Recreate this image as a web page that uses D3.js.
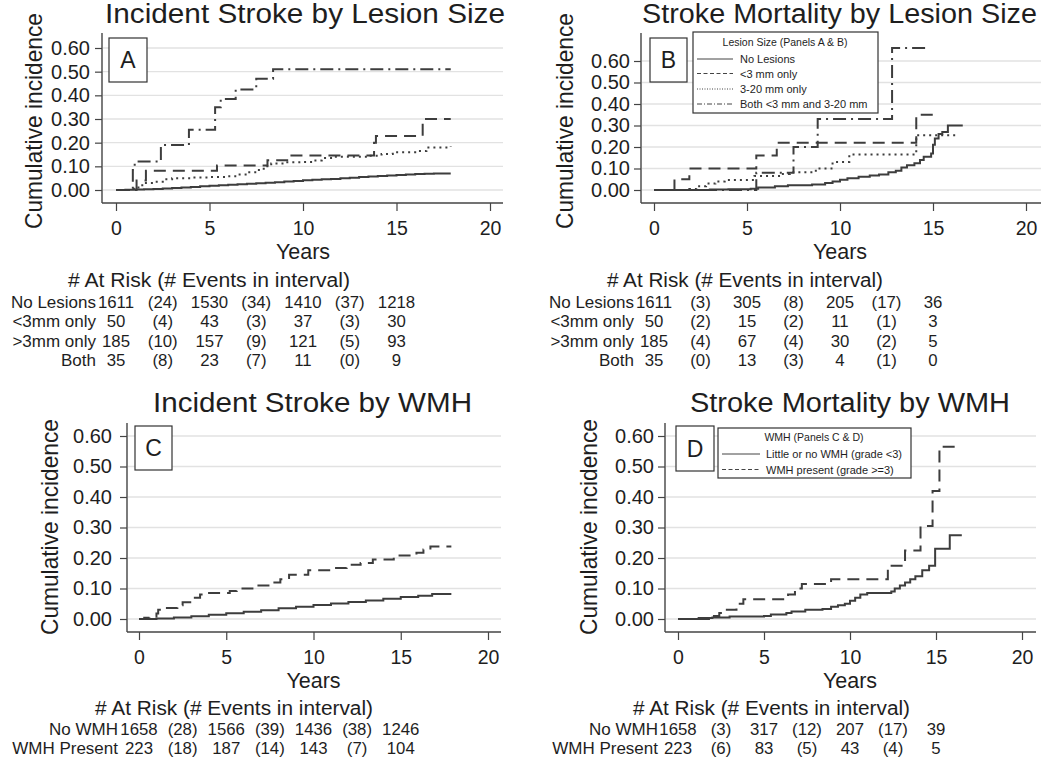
<!DOCTYPE html>
<html><head><meta charset="utf-8">
<script src="https://cdn.jsdelivr.net/npm/d3@7"></script>
<style>
body{margin:0;background:#fff}
svg{display:block}
text{font-family:"Liberation Sans",Arial,Helvetica,sans-serif;fill:#1e1e1e}
</style>
</head><body>
<svg id="c" width="1050" height="761"></svg>
<script>
// ---------------- DATA ----------------
const xTicks = [0, 5, 10, 15, 20];
const yTicks = [0, 0.1, 0.2, 0.3, 0.4, 0.5, 0.6];
const riskTimes = [0, 2.5, 5, 7.5, 10, 12.5, 15];
const panelTitles = ["Incident Stroke by Lesion Size", "Stroke Mortality by Lesion Size", "Incident Stroke by WMH", "Stroke Mortality by WMH"];
const panelLetters = ["A", "B", "C", "D"];
const lesionLegendTitle = "Lesion Size (Panels A & B)";
const lesionGroups = ["No Lesions", "<3 mm only", "3-20 mm only", "Both <3 mm and 3-20 mm"];
const wmhLegendTitle = "WMH (Panels C & D)";
const wmhGroups = ["Little or no WMH (grade <3)", "WMH present (grade >=3)"];
const xAxisTitle = "Years";
const yAxisTitle = "Cumulative incidence";
const tableTitle = "# At Risk (# Events in interval)";

// Panel A: incident stroke by lesion size  [years, cumulative incidence]
const aNoLesions = [[0,0],[0.5,0.001],[1,0.002],[1.5,0.003],[2,0.004],[2.5,0.006],[3,0.008],[3.5,0.011],[4,0.013],[4.5,0.016],[5,0.018],[5.5,0.02],[6,0.022],[6.5,0.024],[7,0.026],[7.5,0.029],[8,0.031],[8.5,0.033],[9,0.036],[9.5,0.038],[10,0.041],[10.5,0.043],[11,0.045],[11.5,0.047],[12,0.05],[12.5,0.052],[13,0.055],[13.5,0.057],[14,0.059],[14.5,0.061],[15,0.063],[15.5,0.065],[16,0.068],[16.5,0.069],[17,0.07],[17.9,0.07]];
const aSmall = [[0,0],[1.1,0.04],[1.6,0.081],[5.4,0.103],[8.1,0.126],[9.3,0.146],[13.8,0.2],[13.9,0.228],[16.4,0.3],[17.9,0.3]];
const aMedium = [[0,0],[0.8,0.005],[1.2,0.02],[1.5,0.03],[2,0.035],[2.5,0.045],[3,0.05],[4,0.053],[5,0.055],[6,0.058],[6.5,0.065],[7,0.075],[7.5,0.085],[7.9,0.1],[8.3,0.112],[9,0.117],[10,0.118],[10.6,0.125],[11,0.135],[11.6,0.14],[13.5,0.145],[14.2,0.152],[14.8,0.16],[16,0.165],[16.6,0.18],[17.9,0.185]];
const aBoth = [[0,0],[0.9,0.085],[1.0,0.12],[2.4,0.19],[3.9,0.255],[5.3,0.35],[5.6,0.385],[6.4,0.425],[7.5,0.47],[8.4,0.51],[17.9,0.51]];

// Panel B: stroke mortality by lesion size
const bNoLesions = [[0,0],[3,0.002],[4,0.004],[5.2,0.006],[5.6,0.012],[6.5,0.017],[7.2,0.022],[8.5,0.026],[9.2,0.032],[9.6,0.04],[10,0.048],[10.4,0.055],[11,0.062],[11.6,0.067],[12.1,0.072],[12.6,0.082],[13,0.09],[13.3,0.105],[13.6,0.115],[14,0.125],[14.3,0.14],[14.5,0.155],[14.9,0.17],[15,0.21],[15.1,0.24],[15.3,0.26],[15.5,0.27],[15.8,0.3],[16.6,0.3]];
const bSmall = [[0,0],[1.1,0.05],[1.9,0.1],[5.5,0.16],[6.6,0.22],[14.1,0.35],[15.0,0.35]];
const bMedium = [[0,0],[1.9,0.005],[2.3,0.018],[2.8,0.03],[3.3,0.04],[3.8,0.047],[5.4,0.065],[6.8,0.075],[7.3,0.082],[8.7,0.1],[9.6,0.13],[10.5,0.165],[14.1,0.255],[16.2,0.255]];
const bBoth = [[0,0],[5.5,0.08],[7.5,0.2],[8.8,0.33],[12.8,0.66],[14.6,0.66]];

// Panel C: incident stroke by WMH
const cNoWmh = [[0,0],[1,0.002],[2,0.005],[3,0.009],[4,0.014],[5,0.019],[6,0.024],[7,0.029],[8,0.035],[9,0.04],[10,0.046],[11,0.051],[12,0.056],[13,0.061],[14,0.066],[15,0.072],[16,0.076],[16.8,0.082],[17.9,0.082]];
const cWmh = [[0,0],[0.3,0.004],[0.6,0.008],[1.0,0.018],[1.1,0.03],[1.6,0.036],[2.2,0.045],[2.5,0.055],[3.2,0.07],[3.5,0.08],[3.9,0.085],[5.2,0.092],[5.6,0.1],[6.5,0.11],[7.5,0.12],[8.1,0.13],[8.6,0.145],[9.7,0.16],[11.2,0.167],[11.9,0.178],[12.7,0.184],[13.4,0.195],[14.6,0.208],[15.9,0.217],[16.3,0.228],[16.7,0.238],[17.9,0.238]];

// Panel D: stroke mortality by WMH
const dNoWmh = [[0,0],[1.2,0.003],[2,0.005],[3,0.008],[5,0.01],[5.4,0.015],[6.3,0.02],[6.6,0.025],[7.4,0.03],[8.4,0.033],[8.9,0.04],[9.3,0.045],[9.7,0.05],[10,0.06],[10.3,0.07],[10.6,0.08],[11,0.085],[12.4,0.09],[12.6,0.1],[12.9,0.11],[13.2,0.12],[13.5,0.13],[13.8,0.14],[14.2,0.16],[14.6,0.175],[14.95,0.23],[15.8,0.275],[16.5,0.275]];
const dWmh = [[0,0],[1.8,0.005],[2.0,0.01],[2.4,0.02],[2.7,0.03],[3.4,0.05],[3.8,0.065],[6.4,0.08],[6.8,0.1],[7.2,0.115],[8.9,0.13],[12.2,0.175],[13.2,0.225],[14.1,0.305],[14.8,0.42],[15.2,0.565],[16.3,0.565]];

// Risk tables
const riskLabelsLesion = ["No Lesions", "<3mm only", ">3mm only", "Both"];
const riskLabelsWmh = ["No WMH", "WMH Present"];
const riskA = [["1611","(24)","1530","(34)","1410","(37)","1218"],["50","(4)","43","(3)","37","(3)","30"],["185","(10)","157","(9)","121","(5)","93"],["35","(8)","23","(7)","11","(0)","9"]];
const riskB = [["1611","(3)","305","(8)","205","(17)","36"],["50","(2)","15","(2)","11","(1)","3"],["185","(4)","67","(4)","30","(2)","5"],["35","(0)","13","(3)","4","(1)","0"]];
const riskC = [["1658","(28)","1566","(39)","1436","(38)","1246"],["223","(18)","187","(14)","143","(7)","104"]];
const riskD = [["1658","(3)","317","(12)","207","(17)","39"],["223","(6)","83","(5)","43","(4)","5"]];

// ---------------- STYLE / LAYOUT ----------------
const FONT = '"Liberation Sans", Arial, Helvetica, sans-serif';
const INK = "#1e1e1e";
const CURVE = "#3d3d3d";
const dashStyles = {solid: null, dash: "12,7", dot: "2,4", dashdot: "13,5,2,5"};
const legendDash = {solid: null, dash: "4,2.5", dot: "1,1.5", dashdot: "5,2,1,2"};

const panels = [
  {title: panelTitles[0], letter: panelLetters[0], axisX: 102, x0: 116, x20: 490, top: 33, bottom: 203, y0: 190, y6: 48, right: 503,
   tickPad: 5, titleY: 22.5, titleCx: 305, titleW: 400, yLabX: 41.5, yLabCy: 121, yearsY: 258.5,
   box: [109, 38, 38, 44],
   series: [aNoLesions, aSmall, aMedium, aBoth], styles: ["solid","dash","dot","dashdot"],
   table: {rows: riskA, labels: riskLabelsLesion, headY: 287, headCx: 209, headW: 282, rowY: [307.5, 327, 346.5, 366], labRight: 96}},
  {title: panelTitles[1], letter: panelLetters[1], axisX: 641, x0: 654, x20: 1026, top: 33, bottom: 203, y0: 190, y6: 61, right: 1041,
   tickPad: 4, titleY: 22.5, titleCx: 839.5, titleW: 395, yLabX: 573, yLabCy: 121, yearsY: 258.5,
   box: [650, 38, 37, 44],
   legend: {x: 693, y: 32, w: 185, h: 81, title: lesionLegendTitle, titleCx: 785, titleY: 46, items: lesionGroups, itemY: [59, 73.5, 89, 104], lx1: 697, lx2: 733, tx: 740, styles: ["solid","dash","dot","dashdot"]},
   series: [bNoLesions, bSmall, bMedium, bBoth], styles: ["solid","dash","dot","dashdot"],
   table: {rows: riskB, labels: riskLabelsLesion, headY: 287, headCx: 745, headW: 276, rowY: [307.5, 327, 346.5, 366], labRight: 634}},
  {title: panelTitles[2], letter: panelLetters[2], axisX: 127, x0: 139, x20: 488, top: 423, bottom: 632, y0: 619, y6: 436, right: 501,
   tickPad: 8, titleY: 411.5, titleCx: 312.5, titleW: 319, yLabX: 58, yLabCy: 527, yearsY: 687.5,
   box: [135, 426, 37, 44],
   series: [cNoWmh, cWmh], styles: ["solid","dash"],
   table: {rows: riskC, labels: riskLabelsWmh, headY: 715, headCx: 234, headW: 278, rowY: [735, 754], labRight: 118}},
  {title: panelTitles[3], letter: panelLetters[3], axisX: 665, x0: 678, x20: 1022, top: 423, bottom: 632, y0: 619, y6: 436, right: 1036,
   tickPad: 4, titleY: 411.5, titleCx: 850, titleW: 320, yLabX: 597, yLabCy: 527, yearsY: 687.5,
   box: [676, 426, 38, 45],
   legend: {x: 718, y: 428, w: 193, h: 50, title: wmhLegendTitle, titleCx: 814, titleY: 441, items: wmhGroups, itemY: [454, 469.5], lx1: 722, lx2: 760, tx: 766, styles: ["solid","dash"]},
   series: [dNoWmh, dWmh], styles: ["solid","dash"],
   table: {rows: riskD, labels: riskLabelsWmh, headY: 715, headCx: 771.5, headW: 277, rowY: [735, 754], labRight: 658}}
];

// ---------------- DRAW ----------------
const svg = d3.select("#c");
svg.append("rect").attr("width", 1050).attr("height", 761).attr("fill", "#fff");

function drawPanel(p) {
  const g = svg.append("g");
  const x = d3.scaleLinear().domain([0, 20]).range([p.x0, p.x20]);
  const y = d3.scaleLinear().domain([0, 0.6]).range([p.y0, p.y6]);

  // gridlines
  g.append("g").selectAll("line").data(yTicks).join("line")
    .attr("x1", p.axisX + 1).attr("x2", p.right)
    .attr("y1", d => y(d)).attr("y2", d => y(d))
    .attr("stroke", "#e2e2e2").attr("stroke-width", 1.3);

  // y axis
  const ya = g.append("g").attr("transform", `translate(${p.axisX},0)`)
    .call(d3.axisLeft(y).tickValues(yTicks).tickFormat(d3.format(".2f")).tickSize(7).tickPadding(p.tickPad));
  ya.select(".domain").remove();
  ya.attr("font-family", FONT).attr("font-size", 20);
  ya.selectAll("line").attr("stroke", "#444").attr("stroke-width", 1.2);
  ya.selectAll("text").attr("fill", INK);

  // x axis
  const xa = g.append("g").attr("transform", `translate(0,${p.bottom})`)
    .call(d3.axisBottom(x).tickValues(xTicks).tickFormat(d3.format("d")).tickSize(8).tickPadding(10));
  xa.select(".domain").remove();
  xa.attr("font-family", FONT).attr("font-size", 19.5);
  xa.selectAll("line").attr("stroke", "#444").attr("stroke-width", 1.2);
  xa.selectAll("text").attr("fill", INK);

  // axis lines
  g.append("line").attr("x1", p.axisX).attr("x2", p.axisX).attr("y1", p.top).attr("y2", p.bottom)
    .attr("stroke", "#444").attr("stroke-width", 1.4);
  g.append("line").attr("x1", p.axisX).attr("x2", p.right).attr("y1", p.bottom).attr("y2", p.bottom)
    .attr("stroke", "#444").attr("stroke-width", 1.4);

  // curves
  const line = d3.line().x(d => x(d[0])).y(d => y(d[1])).curve(d3.curveStepAfter);
  p.series.forEach((s, i) => {
    g.append("path").datum(s).attr("d", line)
      .attr("fill", "none").attr("stroke", CURVE).attr("stroke-width", 2)
      .attr("stroke-dasharray", dashStyles[p.styles[i]]);
  });

  // letter box
  const [bx, by, bw, bh] = p.box;
  g.append("rect").attr("x", bx).attr("y", by).attr("width", bw).attr("height", bh)
    .attr("fill", "#fff").attr("stroke", "#333").attr("stroke-width", 1.2);
  g.append("text").attr("x", bx + bw / 2).attr("y", by + bh / 2 + 8).attr("text-anchor", "middle")
    .attr("font-size", 23).text(p.letter);

  // legend
  if (p.legend) {
    const L = p.legend;
    g.append("rect").attr("x", L.x).attr("y", L.y).attr("width", L.w).attr("height", L.h)
      .attr("fill", "#fff").attr("stroke", "#333").attr("stroke-width", 1.2);
    g.append("text").attr("x", L.titleCx).attr("y", L.titleY).attr("text-anchor", "middle")
      .attr("font-size", 10.5).text(L.title);
    L.items.forEach((it, i) => {
      g.append("line").attr("x1", L.lx1).attr("x2", L.lx2).attr("y1", L.itemY[i]).attr("y2", L.itemY[i])
        .attr("stroke", "#444").attr("stroke-width", 1).attr("stroke-dasharray", legendDash[L.styles[i]]);
      g.append("text").attr("x", L.tx).attr("y", L.itemY[i] + 4).attr("font-size", 11).text(it);
    });
  }

  // title
  g.append("text").attr("x", p.titleCx).attr("y", p.titleY).attr("text-anchor", "middle")
    .attr("font-size", 27).attr("textLength", p.titleW).attr("lengthAdjust", "spacingAndGlyphs").text(p.title);

  // axis titles
  g.append("text").attr("transform", `translate(${p.yLabX},${p.yLabCy}) rotate(-90)`).attr("text-anchor", "middle")
    .attr("font-size", 24).attr("textLength", 216).attr("lengthAdjust", "spacingAndGlyphs").text(yAxisTitle);
  g.append("text").attr("x", x(10)).attr("y", p.yearsY).attr("text-anchor", "middle")
    .attr("font-size", 21.5).text(xAxisTitle);

  // risk table
  const T = p.table;
  g.append("text").attr("x", T.headCx).attr("y", T.headY).attr("text-anchor", "middle")
    .attr("font-size", 19.5).attr("textLength", T.headW).attr("lengthAdjust", "spacingAndGlyphs").text(tableTitle);
  T.rows.forEach((row, r) => {
    g.append("text").attr("x", T.labRight).attr("y", T.rowY[r]).attr("text-anchor", "end")
      .attr("font-size", 17).text(T.labels[r]);
    row.forEach((v, k) => {
      g.append("text").attr("x", x(riskTimes[k])).attr("y", T.rowY[r]).attr("text-anchor", "middle")
        .attr("font-size", 16.8).text(v);
    });
  });
}

panels.forEach(drawPanel);
</script>
</body></html>
